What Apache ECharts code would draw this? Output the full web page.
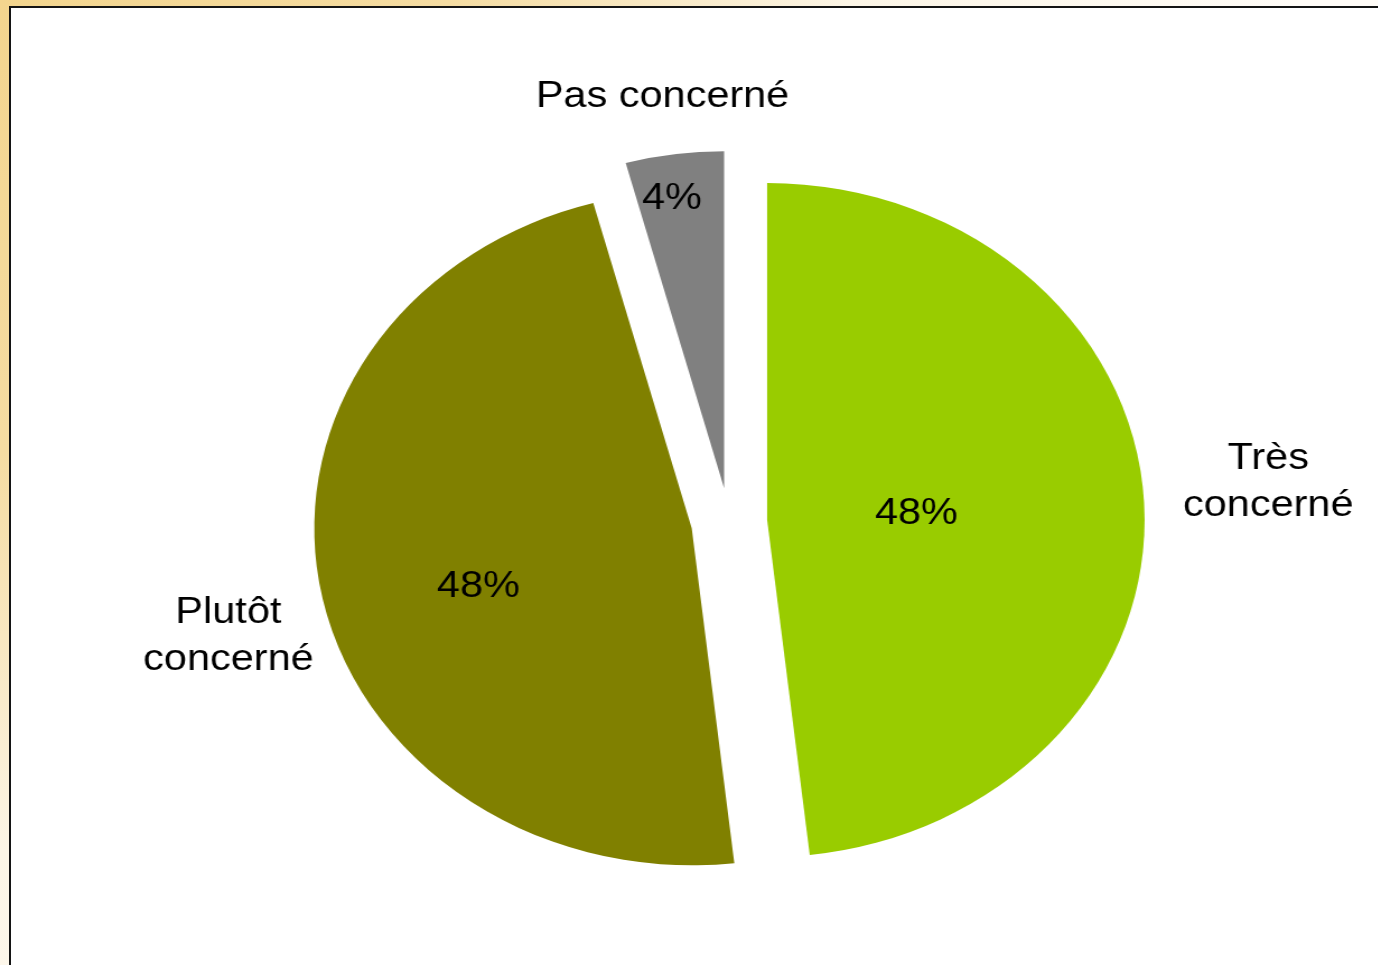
<!DOCTYPE html>
<html><head><meta charset="utf-8">
<script src="https://cdn.jsdelivr.net/npm/echarts@6/dist/echarts.min.js"></script>
<style>
html,body{margin:0;padding:0;width:1378px;height:965px;overflow:hidden;}
body{background: radial-gradient(circle at 0 0, #F3D58E 0px, #F5DCA2 450px, #F9EBCB 700px, #FCF5E6 850px, #FFFCF7 1300px);}
#panel{position:absolute;left:9px;top:6px;right:-10px;bottom:-10px;background:#fff;border-left:2px solid #141414;border-top:2px solid #141414;}
#chart{position:absolute;left:0;top:0;width:1230.36px;height:965px;transform:scaleX(1.12);transform-origin:0 0;}
</style></head><body><div id="panel"></div><div id="chart"></div>
<script>
// data
const categories = ['Très\nconcerné', 'Plutôt\nconcerné', 'Pas concerné'];
const values = [48.2, 47.6, 4.2];
// styles
const palette = ['#99CC00', '#808000', '#808080'];
const insideShift = [[-38, 3], [-22, 26.5], [-24, -119]];
const outsideShift = [[10, -18], [18, 41], [112, -38]];

const pieData = categories.map((c, i) => ({ name: c, value: values[i], selected: true }));
const font = "'Liberation Sans', Arial, sans-serif";

const chart = echarts.init(document.getElementById('chart'), null, { renderer: 'canvas' });
const common = {
  type: 'pie',
  center: [651, 522],
  radius: [0, 337],
  startAngle: 90,
  clockwise: true,
  selectedMode: 'multiple',
  selectedOffset: 34,
  avoidLabelOverlap: false,
  emphasis: { disabled: true, scale: false },
  select: { disabled: false, itemStyle: {} },
  data: pieData
};
chart.setOption({
  animation: false,
  color: palette,
  series: [
    Object.assign({}, common, {
      name: 'values',
      label: {
        show: true, position: 'inside', color: '#000', fontSize: 37, fontFamily: font,
        formatter: p => Math.round(p.percent) + '%'
      },
      labelLine: { show: false },
      labelLayout: p => ({ dx: insideShift[p.dataIndex][0], dy: insideShift[p.dataIndex][1] })
    }),
    Object.assign({}, common, {
      name: 'names',
      silent: true,
      itemStyle: { color: 'rgba(0,0,0,0)' },
      label: {
        show: true, position: 'outside', color: '#000', fontSize: 37, fontFamily: font,
        lineHeight: 47,
        formatter: p => {
          const parts = p.name.split('\n');
          const key = parts.length > 1 ? 'w' : 's';
          return parts.map(s => '{' + key + '|' + s + '}').join('\n');
        },
        rich: {
          w: { width: 152, align: 'center', fontSize: 37, fontFamily: font, color: '#000', lineHeight: 47 },
          s: { width: 230, align: 'center', fontSize: 37, fontFamily: font, color: '#000', lineHeight: 47 }
        }
      },
      labelLine: { show: false, length: 20, length2: 0 },
      labelLayout: p => ({ dx: outsideShift[p.dataIndex][0], dy: outsideShift[p.dataIndex][1] })
    })
  ]
});
</script></body></html>
